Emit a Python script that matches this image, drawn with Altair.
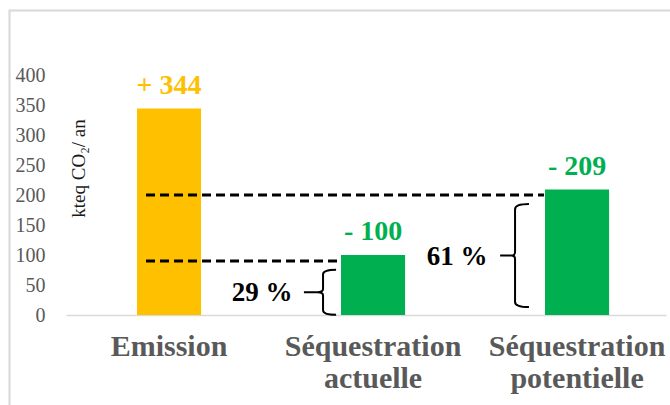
import altair as alt
import pandas as pd

# Annual balance, kteq CO2 per year
categories = ["Emission", "Séquestration\nactuelle", "Séquestration\npotentielle"]
values = [344, -100, -209]
bar_colors = ["#FFC000", "#00B050", "#00B050"]
y_ticks = [0, 50, 100, 150, 200, 250, 300, 350, 400]

# Dashed guides drawn from the emission bar towards each sequestration bar
guide_from = ["Emission", "Emission"]
guide_to = ["Séquestration\npotentielle", "Séquestration\nactuelle"]
guide_level = [200, 90]

# Brace annotations next to the sequestration bars (share of emissions)
brace_cat = ["Séquestration\nactuelle", "Séquestration\npotentielle"]
brace_level = [38, 99]

FONT = "Liberation Serif"

bars = pd.DataFrame({"cat": categories, "value": values, "color": bar_colors})
guides = pd.DataFrame({"src": guide_from, "dst": guide_to, "level": guide_level})
braces = pd.DataFrame({"cat": brace_cat, "level": brace_level})
total = values[0]

xscale = alt.Scale(domain=categories, paddingInner=0.686, paddingOuter=0.3135, align=0.555)
yscale = alt.Scale(domain=[0, 400])

# one axis definition per channel, shared by every layer
X_AXIS = alt.Axis(
    title=None, labelExpr="split(datum.label, '\\n')", labelAngle=0,
    labelLineHeight=32, labelPadding=16, labelLimit=400, ticks=False,
    domainColor="#D9D9D9", domainWidth=1.5,
)
Y_AXIS = alt.Axis(
    values=y_ticks, grid=False, domain=False, ticks=False, labelOverlap=False,
    labelPadding=21, title="kteq CO₂/ an", titleAngle=-90,
    titleX=12, titleY=93, titleBaseline="middle", titleAlign="center",
)

def xenc(field="cat", **kw):
    return alt.X(f"{field}:N", scale=xscale, sort=None, axis=X_AXIS, **kw)

def yenc(field):
    return alt.Y(f"{field}:Q", scale=yscale, axis=Y_AXIS)

base = alt.Chart(bars).transform_calculate(
    height="abs(datum.value)",
    label="(datum.value > 0 ? '+ ' : '- ') + abs(datum.value)",
)

bar_layer = base.mark_bar().encode(
    x=xenc(), y=yenc("height"), color=alt.Color("color:N", scale=None, legend=None)
)

value_text = base.mark_text(
    font=FONT, fontSize=28, fontWeight="bold", baseline="alphabetic", dy=-15
).encode(
    x=xenc(), y=yenc("height"), text="label:N",
    color=alt.Color("color:N", scale=None, legend=None),
)

def guide(dst, x2_offset):
    g = guides[guides["dst"] == dst]
    return alt.Chart(g).mark_rule(
        color="black", strokeWidth=3, strokeDash=[9, 5], xOffset=-23, x2Offset=x2_offset
    ).encode(
        x=xenc("src", bandPosition=0.5),
        x2=alt.X2("dst:N", bandPosition=0.5),
        y=yenc("level"),
    )

guide_hi = guide(guide_to[0], -33)
guide_lo = guide(guide_to[1], -35)

BRACE_SMALL = ("M 0.58 -1 Q 0 -1 0 -0.8 L 0 -0.14 Q 0 0 -0.25 0 L -0.85 0 "
               "M -0.25 0 Q 0 0 0 0.14 L 0 0.8 Q 0 1 0.58 1")
BRACE_TALL = ("M 0.27 -1 Q 0 -1 0 -0.9 L 0 -0.07 Q 0 0 -0.07 0 L -0.29 0 "
              "M -0.07 0 Q 0 0 0 0.07 L 0 0.9 Q 0 1 0.27 1")

def brace(i, shape, size, brace_dx, text_dx):
    d = braces.iloc[[i]].copy()
    val = abs(values[categories.index(d["cat"].iloc[0])])
    d["pct"] = f"{round(val / total * 100)} %"
    src = alt.Chart(d)
    mark = src.mark_point(
        shape=shape, size=size, filled=False, stroke="black", strokeWidth=2,
        opacity=1, xOffset=brace_dx,
    ).encode(x=xenc(), y=yenc("level"))
    txt = src.mark_text(
        font=FONT, fontSize=27, fontWeight="bold", color="black",
        baseline="middle", dx=text_dx, dy=1,
    ).encode(x=xenc(), y=yenc("level"), text="pct:N")
    return mark + txt

brace_a = brace(0, BRACE_SMALL, 2025, -50, -111)
brace_b = brace(1, BRACE_TALL, 10609, -62, -120)

# light frame around the chart area
frame = alt.Chart(bars).mark_rect(
    fill=None, stroke="#D9D9D9", strokeWidth=1.5
).encode(
    x=alt.value(-56.5), y=alt.value(-64.5), x2=alt.value(700), y2=alt.value(400)
)

chart = alt.layer(
    bar_layer, frame, guide_hi, guide_lo, value_text, brace_a, brace_b
).properties(
    width=600, height=240,
    autosize=alt.AutoSizeParams(type="none"),
    padding={"left": 66, "top": 75, "right": 4, "bottom": 90},
    background="white",
).configure(font=FONT).configure_view(stroke=None).configure_axisX(
    labelFont=FONT, labelFontSize=30, labelFontWeight="bold", labelColor="#595959",
).configure_axisY(
    labelFont=FONT, labelFontSize=20, labelColor="#595959",
    titleFont=FONT, titleFontSize=19, titleFontWeight="normal", titleColor="#1a1a1a",
)

chart.save("out.html", embed_options={"renderer": "svg", "actions": False})
